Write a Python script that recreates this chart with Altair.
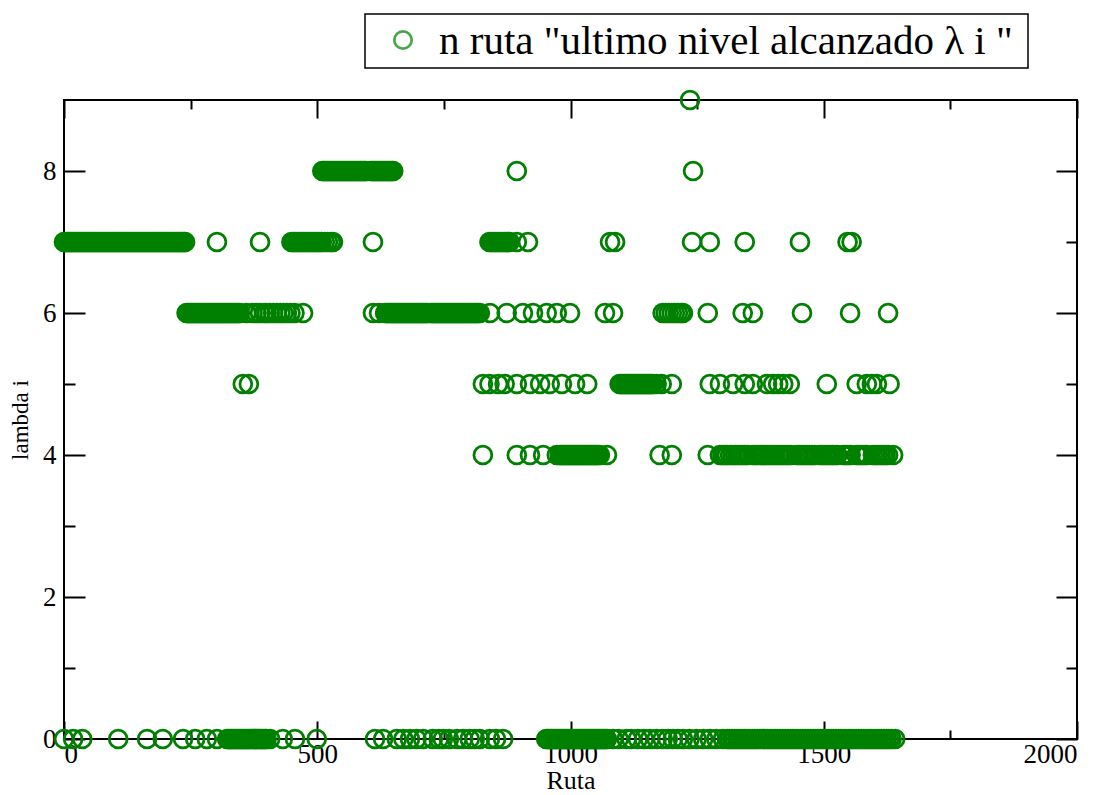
import altair as alt
import pandas as pd

SERIES = 'n ruta "ultimo nivel alcanzado λ i "'

# x positions (Ruta) of the points at each lambda level
ruta_lambda9 = [1236]
ruta_lambda8 = [510, 513, 516, 519, 522, 525, 528, 531, 534, 537, 540, 543, 546, 549, 552, 555, 558,
                561, 564, 567, 570, 573, 576, 579, 582, 585, 588, 591, 594, 597, 606, 609, 612, 615,
                618, 621, 624, 627, 630, 633, 636, 639, 642, 645, 648, 650, 894, 1242]
ruta_lambda7 = [0, 3, 6, 9, 12, 15, 18, 21, 24, 27, 30, 33, 36, 39, 42, 45, 48, 51, 54, 57, 60, 63,
                66, 69, 72, 75, 78, 81, 84, 87, 90, 93, 96, 99, 102, 105, 108, 111, 114, 117, 120,
                123, 126, 129, 132, 135, 138, 141, 144, 147, 150, 153, 156, 159, 162, 165, 168, 171,
                174, 177, 180, 183, 186, 189, 192, 195, 198, 201, 204, 207, 210, 213, 216, 219, 222,
                225, 228, 231, 234, 237, 239, 302, 387,
                449, 453, 457, 461, 465, 469, 473, 477, 481, 485, 489, 493, 497, 501, 505, 509, 515,
                521, 527, 531, 610,
                840, 844, 848, 852, 856, 860, 864, 868, 872, 876, 880, 894, 916, 1078, 1088, 1240,
                1275, 1344, 1453, 1547, 1555]
ruta_lambda6 = [242, 245, 248, 251, 254, 257, 260, 263, 266, 269, 272, 275, 278, 281, 284, 287, 290,
                293, 296, 299, 302, 305, 308, 311, 314, 317, 320, 323, 326, 329, 332, 335, 338, 341,
                344, 347, 360, 372, 380, 387, 395, 400, 406, 413, 420, 427, 433, 440, 447, 455, 472,
                610, 622, 634, 637, 640, 643, 646, 649, 652, 655, 658, 661, 664, 667, 670, 673, 676,
                679, 682, 685, 688, 691, 694, 697, 700, 703, 706, 709, 712, 715, 718, 724, 727, 730,
                733, 736, 739, 742, 745, 748, 751, 754, 757, 760, 763, 766, 769, 772, 775, 778, 781,
                784, 787, 790, 793, 796, 799, 802, 805, 808, 811, 814, 817, 821, 841, 874, 906, 926,
                953, 973, 999, 1068, 1084, 1182, 1188, 1194, 1200, 1206, 1212, 1218, 1222, 1271,
                1340, 1360, 1457, 1552, 1627]
ruta_lambda5 = [353, 365, 827, 840, 857, 870, 894, 920, 940, 959, 983, 1009, 1033,
                1097, 1100, 1103, 1106, 1109, 1112, 1115, 1118, 1121, 1124, 1127, 1130, 1133, 1136,
                1139, 1142, 1145, 1148, 1151, 1154, 1157, 1160, 1163, 1170, 1180, 1200, 1275, 1295,
                1321, 1344, 1360, 1388, 1400, 1410, 1420, 1433, 1506, 1565, 1585, 1595, 1605, 1630]
ruta_lambda4 = [827, 894, 920, 946, 973, 979, 982, 985, 988, 991, 994, 997, 1000, 1003, 1006, 1009,
                1012, 1015, 1018, 1021, 1024, 1027, 1030, 1033, 1036, 1039, 1042, 1045, 1048, 1051,
                1054, 1058, 1072, 1176, 1200, 1271,
                1295, 1300, 1305, 1309, 1315, 1320, 1325, 1330, 1335, 1340, 1345, 1350, 1360, 1365,
                1370, 1375, 1380, 1385, 1390, 1395, 1400, 1405, 1410, 1415, 1420, 1425, 1430, 1435,
                1447, 1452, 1457, 1462, 1467, 1472, 1477, 1482, 1492, 1497, 1502, 1507, 1512, 1517,
                1522, 1527, 1538, 1543, 1548, 1553, 1565, 1570, 1575, 1580, 1585, 1597, 1602, 1607,
                1612, 1617, 1622, 1627, 1637]
ruta_lambda0 = [0, 18, 36, 107, 164, 195, 235, 259, 282, 302,
                322, 325, 328, 331, 334, 337, 340, 343, 346, 349, 352, 355, 358, 361, 364, 367, 370,
                373, 376, 379, 382, 385, 388, 391, 394, 397, 400,
                407, 432, 456, 499, 614, 630, 657, 670, 683, 696, 709, 728, 740, 748, 760, 776, 788,
                801, 811, 821, 841, 853, 867,
                952, 955, 958, 961, 964, 967, 970, 973, 976, 979, 982, 985, 988, 991, 994, 997, 1000,
                1003, 1006, 1009, 1012, 1015, 1018, 1021, 1024, 1027, 1030, 1033, 1036, 1039, 1042,
                1045, 1048, 1051, 1054, 1057, 1060, 1063, 1066, 1069, 1072,
                1084, 1095, 1111, 1120, 1133, 1145, 1157, 1170, 1182, 1192, 1202, 1212, 1222, 1235,
                1249, 1262, 1275, 1288, 1301, 1309, 1314, 1319, 1324, 1329, 1334, 1339, 1344, 1349,
                1354, 1359, 1364, 1369, 1374, 1379, 1384, 1389, 1394, 1399, 1404, 1409, 1414, 1419,
                1424, 1429, 1434, 1439, 1444, 1449, 1454, 1459, 1464, 1469, 1474, 1479, 1484, 1489,
                1494, 1499, 1504, 1509, 1514, 1519, 1524, 1529, 1534, 1539, 1544, 1549, 1554, 1559,
                1564, 1569, 1574, 1579, 1584, 1589, 1594, 1599, 1604, 1609, 1614, 1619, 1624, 1629,
                1634, 1641]

levels = {9: ruta_lambda9, 8: ruta_lambda8, 7: ruta_lambda7, 6: ruta_lambda6,
          5: ruta_lambda5, 4: ruta_lambda4, 0: ruta_lambda0}

x_major = [0, 500, 1000, 1500, 2000]
x_minor = [250, 750, 1250, 1750]
y_major = [0, 2, 4, 6, 8]
y_minor = [1, 3, 5, 7]

rows = []
for lam, xs in levels.items():
    for r in xs:
        rows.append({"ruta": r, "lam": lam, "serie": SERIES})
df = pd.DataFrame(rows)
legend_df = pd.DataFrame({"serie": [SERIES]})

FONT = "Liberation Serif"
GREEN = "#008000"
xscale = alt.Scale(domain=[0, 2000], nice=False, zero=False)
yscale = alt.Scale(domain=[0, 9], nice=False, zero=False)

points = alt.Chart(df).mark_point(shape="circle", filled=False, size=320, strokeWidth=2.8,
                                  opacity=1, color=GREEN).encode(
    x=alt.X("ruta:Q", scale=xscale,
            axis=alt.Axis(orient="bottom", values=x_major, ticks=False, tickSize=0, domain=False,
                          grid=False, labelPadding=2, title="Ruta", titleBaseline="alphabetic",
                          titleY=49, titleFontSize=26, format="d")),
    y=alt.Y("lam:Q", scale=yscale,
            axis=alt.Axis(orient="left", values=y_major, ticks=False, tickSize=0, domain=False,
                          grid=False, labelPadding=8, title="lambda i", titlePadding=10,
                          titleFontSize=23, format="d")),
)


def tick_layer(xorient, yorient, xvals, yvals, xsize, ysize):
    return alt.Chart(df).mark_point(opacity=0).encode(
        x=alt.X("ruta:Q", scale=xscale,
                axis=alt.Axis(orient=xorient, values=xvals, labels=False, domain=False, grid=False,
                              title=None, ticks=True, tickSize=xsize, offset=-xsize,
                              tickColor="black", tickWidth=2)),
        y=alt.Y("lam:Q", scale=yscale,
                axis=alt.Axis(orient=yorient, values=yvals, labels=False, domain=False, grid=False,
                              title=None, ticks=True, tickSize=ysize, offset=-ysize,
                              tickColor="black", tickWidth=2)),
    )


# legend box drawn above the plot area (positions in pixels relative to the plot origin)
legend_box = alt.Chart(legend_df).mark_rect(fill="white", stroke="black", strokeWidth=1.5).encode(
    x=alt.value(301), x2=alt.value(964), y=alt.value(-86), y2=alt.value(-32))
legend_symbol = alt.Chart(legend_df).mark_point(shape="circle", filled=False, size=300,
                                                 strokeWidth=2.8, color=GREEN).encode(
    x=alt.value(339), y=alt.value(-60))
legend_text = alt.Chart(legend_df).mark_text(align="left", baseline="middle", font=FONT,
                                             fontSize=41, color="black").encode(
    x=alt.value(375), y=alt.value(-58), text="serie:N")

chart = alt.layer(
    points,
    tick_layer("bottom", "left", x_major, y_major, 18, 21),
    tick_layer("bottom", "left", x_minor, y_minor, 9, 11),
    tick_layer("top", "right", x_major, y_major, 18, 21),
    tick_layer("top", "right", x_minor, y_minor, 9, 11),
    legend_box, legend_symbol, legend_text,
).resolve_axis(x="independent", y="independent").properties(
    width=1013, height=639,
    autosize=alt.AutoSizeParams(type="none"),
    padding={"left": 56, "top": 92, "right": 20, "bottom": 55},
).configure(font=FONT).configure_view(stroke="black", strokeWidth=2).configure_axis(
    labelFont=FONT, titleFont=FONT, labelFontSize=27, titleFontSize=27,
    labelColor="black", titleColor="black", titleFontWeight="normal",
)

chart.save("out.html", embed_options={"renderer": "svg", "actions": False})
